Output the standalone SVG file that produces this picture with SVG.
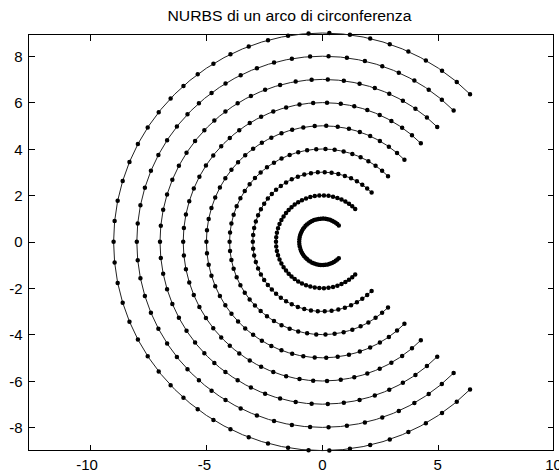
<svg xmlns="http://www.w3.org/2000/svg" xmlns:xlink="http://www.w3.org/1999/xlink" width="559" height="473" viewBox="0 0 559 473">
<style>
.ax{fill:none;stroke:#000;stroke-width:1;shape-rendering:crispEdges}
.lbl{font-family:"Liberation Sans",Arial,sans-serif;font-size:15px;fill:#000}
.ttl{font-family:"Liberation Sans",Arial,sans-serif;font-size:14px;fill:#000}
.arc{fill:none;stroke:#222;stroke-width:1;vector-effect:non-scaling-stroke}
.dots{fill:none;stroke:#000;stroke-width:4.5;stroke-linecap:round;vector-effect:non-scaling-stroke}
</style>
<defs>
<path id="uarc" class="arc" d="M0.7071-0.7071A1 1 0 1 0 0.7071 0.7071"/>
<path id="udots" class="dots" d="M0.7071-0.7071h0M0.6435-0.7655h0M0.5729-0.8197h0M0.4955-0.8686h0M0.4117-0.9113h0M0.3226-0.9465h0M0.2289-0.9735h0M0.1319-0.9913h0M0.0332-0.9995h0M-0.0663-0.9978h0M-0.1645-0.9864h0M-0.2605-0.9655h0M-0.3528-0.9357h0M-0.4403-0.8979h0M-0.5219-0.853h0M-0.5972-0.8021h0M-0.6654-0.7465h0M-0.7269-0.6867h0M-0.784-0.6207h0M-0.8367-0.5477h0M-0.8837-0.4681h0M-0.924-0.3825h0M-0.9565-0.2917h0M-0.9805-0.1968h0M-0.9951-0.0992h0M-1 0h0M-0.9951 0.0992h0M-0.9805 0.1968h0M-0.9565 0.2917h0M-0.924 0.3825h0M-0.8837 0.4681h0M-0.8367 0.5477h0M-0.784 0.6207h0M-0.7269 0.6867h0M-0.6654 0.7465h0M-0.5972 0.8021h0M-0.5219 0.853h0M-0.4403 0.8979h0M-0.3528 0.9357h0M-0.2605 0.9655h0M-0.1645 0.9864h0M-0.0663 0.9978h0M0.0332 0.9995h0M0.1319 0.9913h0M0.2289 0.9735h0M0.3226 0.9465h0M0.4117 0.9113h0M0.4955 0.8686h0M0.5729 0.8197h0M0.6435 0.7655h0M0.7071 0.7071h0"/>
</defs>
<rect width="559" height="473" fill="#fff"/>
<text class="ttl" x="167.5" y="21.3" textLength="244" lengthAdjust="spacingAndGlyphs">NURBS di un arco di circonferenza</text>
<g id="axes">
<rect class="ax" x="28.5" y="34.5" width="525" height="416"/>
<path class="ax" d="M90.5 450.5v-6M206.5 450.5v-6M322.5 450.5v-6M438.5 450.5v-6M90.5 34.5v6M206.5 34.5v6M322.5 34.5v6M438.5 34.5v6M28.5 56.5h6M28.5 102.5h6M28.5 149.5h6M28.5 195.5h6M28.5 242.5h6M28.5 288.5h6M28.5 334.5h6M28.5 381.5h6M28.5 427.5h6M553.5 56.5h-6M553.5 102.5h-6M553.5 149.5h-6M553.5 195.5h-6M553.5 242.5h-6M553.5 288.5h-6M553.5 334.5h-6M553.5 381.5h-6M553.5 427.5h-6"/>
<g class="lbl" text-anchor="end">
<text x="22.5" y="61.7">8</text>
<text x="22.5" y="108.1">6</text>
<text x="22.5" y="154.5">4</text>
<text x="22.5" y="200.9">2</text>
<text x="22.5" y="247.3">0</text>
<text x="22.5" y="293.7">-2</text>
<text x="22.5" y="340.1">-4</text>
<text x="22.5" y="386.5">-6</text>
<text x="22.5" y="432.9">-8</text>
</g>
<g class="lbl" text-anchor="middle">
<text x="87" y="470">-10</text>
<text x="204.5" y="470">-5</text>
<text x="322.3" y="470">0</text>
<text x="437.6" y="470">5</text>
<text x="553.5" y="470">10</text>
</g>
</g>
<g id="curves">
<g id="arc1" transform="translate(322.4 241.8) scale(23.2)"><use xlink:href="#uarc"/><use xlink:href="#udots"/></g>
<g id="arc2" transform="translate(322.4 241.8) scale(46.4)"><use xlink:href="#uarc"/><use xlink:href="#udots"/></g>
<g id="arc3" transform="translate(322.4 241.8) scale(69.6)"><use xlink:href="#uarc"/><use xlink:href="#udots"/></g>
<g id="arc4" transform="translate(322.4 241.8) scale(92.8)"><use xlink:href="#uarc"/><use xlink:href="#udots"/></g>
<g id="arc5" transform="translate(322.4 241.8) scale(116)"><use xlink:href="#uarc"/><use xlink:href="#udots"/></g>
<g id="arc6" transform="translate(322.4 241.8) scale(139.2)"><use xlink:href="#uarc"/><use xlink:href="#udots"/></g>
<g id="arc7" transform="translate(322.4 241.8) scale(162.4)"><use xlink:href="#uarc"/><use xlink:href="#udots"/></g>
<g id="arc8" transform="translate(322.4 241.8) scale(185.6)"><use xlink:href="#uarc"/><use xlink:href="#udots"/></g>
<g id="arc9" transform="translate(322.4 241.8) scale(208.8)"><use xlink:href="#uarc"/><use xlink:href="#udots"/></g>
</g>
</svg>
